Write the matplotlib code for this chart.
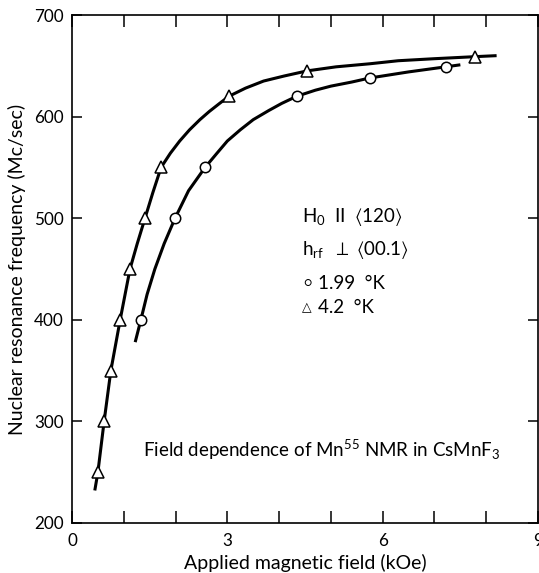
import matplotlib
matplotlib.use("Agg")
import matplotlib.pyplot as plt
from matplotlib.ticker import MultipleLocator, FixedLocator

plt.rcParams["font.family"] = ["Lato", "DejaVu Sans"]
plt.rcParams["mathtext.fontset"] = "custom"
plt.rcParams["mathtext.rm"] = "Lato"
plt.rcParams["mathtext.it"] = "Lato"
plt.rcParams["mathtext.default"] = "regular"

# measured points, 4.2 K (triangles)
field_42 = [0.50, 0.62, 0.75, 0.93, 1.12, 1.41, 1.72, 3.03, 4.54, 7.78]
freq_42 = [250, 300, 350, 400, 450, 500, 550, 620, 645, 659]

# measured points, 1.99 K (circles)
field_199 = [1.33, 1.99, 2.57, 4.34, 5.75, 7.22]
freq_199 = [400, 500, 550, 620, 638, 649]

# hand-drawn curves
curve_42_x = [0.44, 0.50, 0.62, 0.75, 0.93, 1.12, 1.26, 1.41, 1.56, 1.72,
              1.90, 2.08, 2.27, 2.47, 2.65, 2.85, 3.03, 3.35, 3.70, 4.10,
              4.54, 5.10, 5.75, 6.30, 7.00, 7.78, 8.20]
curve_42_y = [232, 250, 300, 350, 400, 450, 475, 500, 525, 550,
              564, 576, 587, 597, 605, 613, 620, 628, 635, 640,
              645, 649, 652, 655, 657, 659, 660]
curve_199_x = [1.22, 1.33, 1.45, 1.60, 1.78, 1.99, 2.25, 2.57, 2.80, 3.00,
               3.25, 3.50, 3.80, 4.05, 4.34, 4.70, 5.00, 5.40, 5.75, 6.50,
               7.22, 7.50]
curve_199_y = [378, 400, 425, 450, 475, 500, 527, 550, 564, 576,
               587, 597, 606, 613, 620, 626, 630, 634, 638, 644,
               649, 651]

x_ticks = [0, 3, 6, 9]
y_ticks = [200, 300, 400, 500, 600, 700]

fig = plt.figure(figsize=(5.39, 5.73), dpi=100)
ax = fig.add_axes([0.1336, 0.0873, 0.8646, 0.8865])

for cx, cy in [(curve_42_x, curve_42_y), (curve_199_x, curve_199_y)]:
    ax.plot(cx, cy, color="black", lw=2.2, solid_capstyle="butt",
            solid_joinstyle="round", zorder=2)
ax.plot(field_42, freq_42, ls="none", marker="^", ms=8.5, mfc="white",
        mec="black", mew=1.1, zorder=3)
ax.plot(field_199, freq_199, ls="none", marker="o", ms=7.5, mfc="white",
        mec="black", mew=1.1, zorder=3)

ax.set_xlim(0, 9)
ax.set_ylim(200, 700)
ax.xaxis.set_major_locator(FixedLocator(x_ticks))
ax.xaxis.set_minor_locator(MultipleLocator(1))
ax.yaxis.set_major_locator(FixedLocator(y_ticks))
ax.tick_params(which="both", direction="in", top=True, right=True,
               width=1.1, labelsize=12.3)
ax.tick_params(axis="x", which="both", length=8.5, pad=7)
ax.tick_params(axis="y", which="both", length=7, pad=6)
for s in ax.spines.values():
    s.set_linewidth(1.2)

ax.set_xlabel("Applied magnetic field (kOe)", fontsize=14, labelpad=4)
ax.set_ylabel("Nuclear resonance frequency (Mc/sec)", fontsize=14, labelpad=6)

fs = 13.5
ax.text(4.44, 501, r"H$_0$  II  $\langle$120$\rangle$", fontsize=fs, va="center")
ax.text(4.44, 469, r"h$_{rf}$  $\perp$ $\langle$00.1$\rangle$", fontsize=fs, va="center")
ax.text(4.54, 436, "○", fontsize=9, va="center", ha="center")
ax.text(4.75, 436, "1.99  °K", fontsize=fs, va="center")
ax.text(4.54, 412, "△", fontsize=9, va="center", ha="center")
ax.text(4.75, 412, "4.2  °K", fontsize=fs, va="center")
ax.text(1.37, 272, r"Field dependence of Mn$^{55}$ NMR in CsMnF$_3$",
        fontsize=fs, va="center")

fig.savefig("out.png", dpi=100)
